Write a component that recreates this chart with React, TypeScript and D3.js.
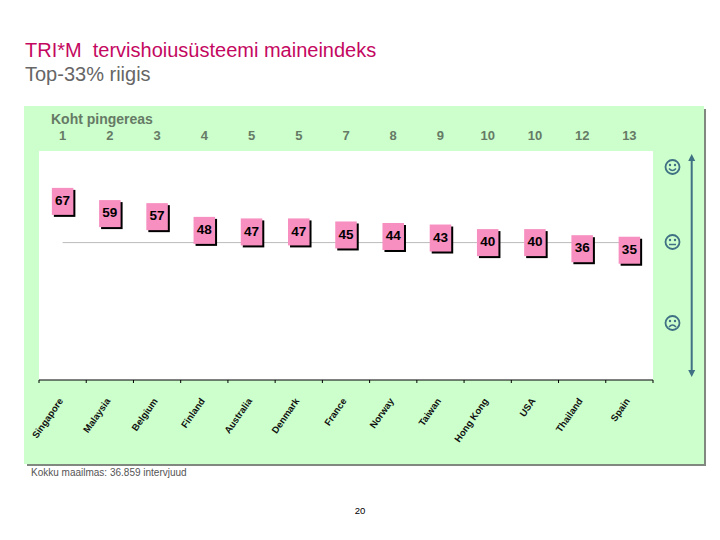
import { useEffect, useRef } from "react";
import * as d3 from "d3";

const countries = ["Singapore", "Malaysia", "Belgium", "Finland", "Australia", "Denmark", "France", "Norway", "Taiwan", "Hong Kong", "USA", "Thailand", "Spain"];
const scores = [67, 59, 57, 48, 47, 47, 45, 44, 43, 40, 40, 36, 35];
const ranks = ["1", "2", "3", "4", "5", "5", "7", "8", "9", "10", "10", "12", "13"];
const worldAverage = 40;

const W = 720, H = 540;
const FONT = "'Liberation Sans', Arial, sans-serif";
const FACE = "#3f7084";

export default function App() {
  const svgRef = useRef<SVGSVGElement>(null);

  useEffect(() => {
    if (!svgRef.current) return;
    const svg = d3.select(svgRef.current);
    svg.selectAll("*").remove();

    const x = d3.scaleBand<number>().domain(d3.range(countries.length)).range([39, 653]);
    const y = d3.scaleLinear().domain([-50, 100]).range([380, 151]);
    const cx = (i: number) => x(i)! + x.bandwidth() / 2;

    svg.append("text").attr("x", 25).attr("y", 57)
      .attr("font-size", 20).attr("fill", "#c4085f").style("white-space", "pre")
      .text("TRI*M  tervishoiusüsteemi maineindeks");
    svg.append("text").attr("x", 25).attr("y", 81)
      .attr("font-size", 20).attr("fill", "#666")
      .text("Top-33% riigis");

    // panel with its drop shadow, then the white plot area
    svg.append("rect").attr("x", 27).attr("y", 109).attr("width", 679).attr("height", 357).attr("fill", "#808880");
    svg.append("rect").attr("x", 24).attr("y", 106).attr("width", 680).attr("height", 358).attr("fill", "#ccffcc");
    svg.append("rect").attr("x", 39).attr("y", 151).attr("width", 614).attr("height", 229).attr("fill", "#fff");

    svg.append("text").attr("x", 51).attr("y", 124)
      .attr("font-size", 14).attr("font-weight", 700).attr("fill", "#667a66")
      .text("Koht pingereas");
    svg.append("g").selectAll("text").data(ranks).join("text")
      .attr("x", (_, i) => cx(i)).attr("y", 140)
      .attr("text-anchor", "middle").attr("font-size", 13).attr("font-weight", 700).attr("fill", "#667a66")
      .text((d) => d);

    svg.append("line")
      .attr("x1", cx(0)).attr("x2", cx(countries.length - 1))
      .attr("y1", y(worldAverage)).attr("y2", y(worldAverage))
      .attr("stroke", "#bbb").attr("stroke-width", 1);

    // axis line, ticks on band edges
    const axisY = y.range()[0];
    svg.append("line").attr("x1", 39).attr("x2", 653).attr("y1", axisY).attr("y2", axisY).attr("stroke", "#000");
    svg.append("g").selectAll("line").data([...x.domain().map((i) => x(i)!), x.range()[1]]).join("line")
      .attr("x1", (d) => d).attr("x2", (d) => d)
      .attr("y1", axisY).attr("y2", axisY + 3)
      .attr("stroke", "#000");

    svg.append("g").selectAll("text").data(countries).join("text")
      .attr("transform", (_, i) => `translate(${cx(i) + 1},${axisY + 21}) rotate(-55)`)
      .attr("text-anchor", "end").attr("font-size", 9.5).attr("font-weight", 700).attr("fill", "#111")
      .text((d) => d);

    const bw = 21.5, bh = 27;
    const tags = svg.append("g").selectAll("g").data(scores).join("g")
      .attr("transform", (d, i) => `translate(${cx(i)},${y(d)})`);
    tags.append("rect").attr("x", -bw / 2 + 2).attr("y", -bh / 2 + 2).attr("width", bw).attr("height", bh).attr("fill", "#000");
    tags.append("rect").attr("x", -bw / 2).attr("y", -bh / 2).attr("width", bw).attr("height", bh).attr("fill", "#f78fc0");
    tags.append("text").attr("y", -1).attr("dy", "0.35em").attr("text-anchor", "middle")
      .attr("font-size", 13.5).attr("font-weight", 700).attr("fill", "#000")
      .text((d) => d);

    // smileys
    const faces = [
      { cy: 167, mouth: "M-3.5,1.5Q0,5.5 3.5,1.5" },
      { cy: 242, mouth: "M-3.5,2.5H3.5" },
      { cy: 323, mouth: "M-3.5,4Q0,0 3.5,4" },
    ];
    const face = svg.append("g").selectAll("g").data(faces).join("g")
      .attr("transform", (d) => `translate(672.5,${d.cy})`);
    face.append("circle").attr("r", 7).attr("fill", "none").attr("stroke", FACE).attr("stroke-width", 1.8);
    face.append("path").attr("d", (d) => d.mouth).attr("fill", "none").attr("stroke", FACE).attr("stroke-width", 1.5);
    face.append("circle").attr("cx", -2.5).attr("cy", -2).attr("r", 1.2).attr("fill", FACE);
    face.append("circle").attr("cx", 2.5).attr("cy", -2).attr("r", 1.2).attr("fill", FACE);

    // up/down arrow
    svg.append("line").attr("x1", 691.7).attr("x2", 691.7).attr("y1", 158).attr("y2", 373)
      .attr("stroke", FACE).attr("stroke-width", 2);
    svg.append("path").attr("d", "M691.7,154l-3.5,7h7z M691.7,377l-3.5,-7h7z").attr("fill", FACE);

    svg.append("text").attr("x", 31).attr("y", 476)
      .attr("font-size", 10).attr("fill", "#555")
      .text("Kokku maailmas: 36.859 intervjuud");
    svg.append("text").attr("x", 360).attr("y", 514).attr("text-anchor", "middle")
      .attr("font-size", 9.5).attr("fill", "#000")
      .text("20");
  }, []);

  return (
    <div style={{ position: "absolute", left: 0, top: 0 }}>
      <svg ref={svgRef} width={W} height={H} style={{ display: "block", fontFamily: FONT }} />
    </div>
  );
}
